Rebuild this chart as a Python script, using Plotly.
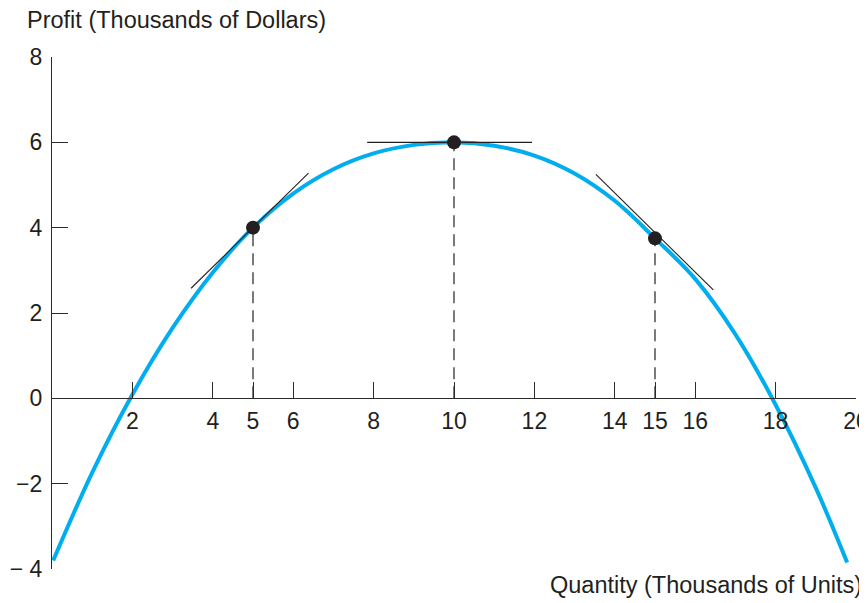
import plotly.graph_objects as go

# profit curve (thousands of units, thousands of dollars)
quantity = [0.03, 1, 2, 3, 4, 5, 6, 7, 8, 9, 10,
            11, 12, 13, 14, 15, 16, 17, 18, 19, 19.78]
profit = [-3.80, -1.74, 0.09, 1.65, 2.95, 4.0, 4.8, 5.37, 5.74, 5.94, 6.0,
          5.92, 5.69, 5.27, 4.63, 3.75, 2.8, 1.5, -0.15, -2.1, -3.85]

# marked points
pts_x = [5, 10, 15]
pts_y = [4.0, 6.0, 3.75]

# tangent segments
tan_x = [[3.46, 6.38], [7.84, 11.94], [13.53, 16.45]]
tan_y = [[2.58, 5.28], [6.0, 6.0], [5.25, 2.54]]

xticks = [2, 4, 5, 6, 8, 10, 12, 14, 15, 16, 18, 20]
yticks = [-4, -2, 0, 2, 4, 6, 8]
ytick_text = ['\u2212 4', '\u22122', '0', '2', '4', '6', '8']

ink = '#231f20'
axis_col = '#2b2b2b'
font = 'Liberation Sans, Arial, sans-serif'

fig = go.Figure()

# dashed drop lines from each point down to the axis
for x, y in zip(pts_x, pts_y):
    fig.add_scatter(x=[x, x], y=[0, y], mode='lines',
                    line=dict(color='#333333', width=1.3, dash='12px,7px'),
                    hoverinfo='skip')

fig.add_scatter(x=quantity, y=profit, mode='lines', line_shape='spline',
                line=dict(color='#00aeef', width=4), name='profit')

for tx, ty in zip(tan_x, tan_y):
    fig.add_scatter(x=tx, y=ty, mode='lines', line=dict(color=ink, width=1.1),
                    hoverinfo='skip')

fig.add_scatter(x=pts_x, y=pts_y, mode='markers',
                marker=dict(color=ink, size=14), cliponaxis=False)

# page body has an 8px margin, so the figure is shrunk by that much
fig.update_layout(
    width=859, height=595,
    margin=dict(l=44, r=11.3, t=49.3, b=34),
    plot_bgcolor='white', paper_bgcolor='white',
    showlegend=False,
    font=dict(family=font, size=23, color=ink),
    xaxis=dict(range=[0, 20], anchor='free', position=1/3,
               showline=True, linecolor=axis_col, linewidth=1.3,
               showgrid=False, zeroline=False, automargin=False,
               tickmode='array', tickvals=xticks,
               ticks='inside', ticklen=16, tickwidth=1.3, tickcolor=axis_col,
               ticklabelstandoff=2, ticklabeloverflow='allow',
               tickfont=dict(family=font, size=23, color=ink)),
    yaxis=dict(range=[-4, 8],
               showline=True, linecolor=axis_col, linewidth=1.3,
               showgrid=False, zeroline=False, automargin=False,
               tickmode='array', tickvals=yticks, ticktext=ytick_text,
               ticks='inside', ticklen=16, tickwidth=1.3, tickcolor=axis_col,
               ticklabelstandoff=4,
               tickfont=dict(family=font, size=23, color=ink)),
    annotations=[
        dict(text='Profit (Thousands of Dollars)', xref='paper', yref='paper',
             x=-0.0335, y=1.0729, xanchor='left', yanchor='middle', showarrow=False,
             font=dict(family=font, size=23.5, color=ink)),
        dict(text='Quantity (Thousands of Units)', xref='paper', yref='paper',
             x=1.0102, y=-0.0313, xanchor='right', yanchor='middle', showarrow=False,
             font=dict(family=font, size=23.5, color=ink)),
    ],
)

fig.write_html('out.html')
